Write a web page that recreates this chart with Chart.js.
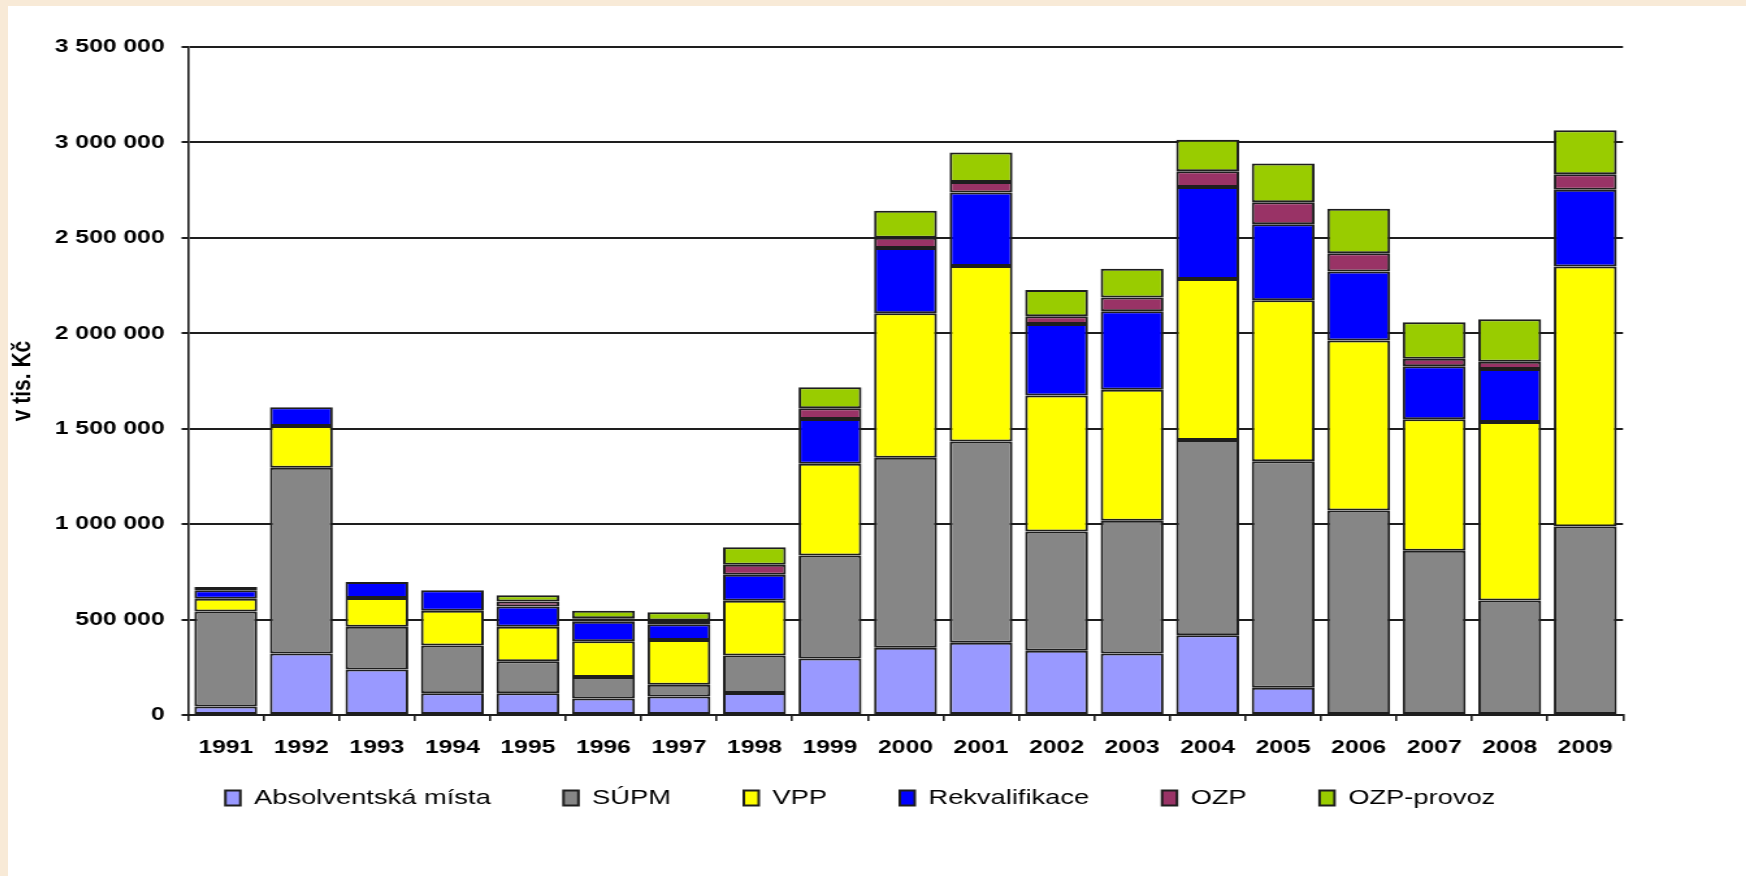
<!DOCTYPE html>
<html lang="cs">
<head>
<meta charset="UTF-8">
<title>Výdaje na aktivní politiku zaměstnanosti 1991–2009</title>
<script src="https://cdn.jsdelivr.net/npm/chart.js@4.4.1/dist/chart.umd.min.js"></script>
<style>
    html, body { margin: 0; padding: 0; }
    body { width: 1746px; height: 876px; background: #f8ead7; overflow: hidden; position: relative; }
    #sheet { position: absolute; left: 8px; top: 6px; width: 1738px; height: 870px; background: #fff; overflow: hidden; }
    /* the original picture is stretched sideways, so the chart is drawn narrow and widened */
    #wrap { position: absolute; left: 0; top: 0; width: 1337px; height: 870px; transform: scaleX(1.3); transform-origin: 0 0; }
</style>
</head>
<body>
<div id="sheet"><div id="wrap"><canvas id="chart"></canvas></div></div>
<script>
// values in tis. Kč
const years = ['1991','1992','1993','1994','1995','1996','1997','1998','1999','2000',
               '2001','2002','2003','2004','2005','2006','2007','2008','2009'];
const absolventi = [44000, 322000, 238000, 114000, 114000, 86000, 97000, 115000, 296000, 352000,
                    379000, 336000, 322000, 418000, 143000, 0, 0, 0, 0];
const supm = [498000, 974000, 225000, 250000, 168000, 113000, 61000, 197000, 540000, 996000,
              1054000, 626000, 696000, 1023000, 1187000, 1072000, 861000, 600000, 988000];
const vpp = [67000, 218000, 150000, 182000, 181000, 188000, 235000, 287000, 480000, 757000,
             919000, 712000, 686000, 843000, 843000, 890000, 688000, 935000, 1362000];
const rekvalifikace = [44000, 99000, 84000, 107000, 106000, 102000, 82000, 136000, 235000, 342000,
                       385000, 375000, 411000, 483000, 398000, 362000, 278000, 278000, 402000];
const ozp = [18000, 0, 0, 0, 26000, 18000, 20000, 52000, 56000, 53000,
             56000, 40000, 73000, 82000, 115000, 96000, 40000, 38000, 81000];
const ozpProvoz = [0, 0, 0, 0, 32000, 39000, 44000, 92000, 110000, 142000,
                   154000, 138000, 150000, 165000, 203000, 232000, 191000, 223000, 231000];
const yTicks = [0, 500000, 1000000, 1500000, 2000000, 2500000, 3000000, 3500000];

const series = [
    { label: 'Absolventská místa', data: absolventi, color: '#9999ff' },
    { label: 'SÚPM', data: supm, color: '#868686' },
    { label: 'VPP', data: vpp, color: '#ffff00' },
    { label: 'Rekvalifikace', data: rekvalifikace, color: '#0000ff' },
    { label: 'OZP', data: ozp, color: '#993366' },
    { label: 'OZP-provoz', data: ozpProvoz, color: '#99cc00' }
];

const ink = '#1e1e1e';
const padLeft = 20;
const plotLeft = 138.5, plotRight = 1242.3;

function spaced(v) {
    return String(v).replace(/\B(?=(\d{3})+(?!\d))/g, ' ');
}

// the legend sits a bit higher and further right than Chart.js would put it
const legendNudge = {
    id: 'legendNudge',
    afterLayout(chart) {
        const lg = chart.legend;
        if (!lg) return;
        lg.left += 49;
        lg.top -= 33.5;
        lg.bottom -= 33.5;
    }
};

new Chart(document.getElementById('chart'), {
    type: 'bar',
    data: {
        labels: years,
        datasets: series.map(s => ({
            label: s.label,
            data: s.data.map(v => v || null),
            backgroundColor: s.color,
            borderColor: ink,
            borderWidth: 2,
            borderSkipped: false,
            categoryPercentage: 1,
            barPercentage: 0.833
        }))
    },
    options: {
        responsive: true,
        maintainAspectRatio: false,
        animation: false,
        layout: { padding: { left: padLeft, right: 1337 - plotRight, top: 41, bottom: 24 } },
        plugins: {
            tooltip: { enabled: false },
            legend: {
                position: 'bottom',
                labels: {
                    boxWidth: 11.5,
                    boxHeight: 15,
                    padding: 56,
                    color: '#000',
                    font: { family: 'Liberation Sans', size: 21 }
                }
            }
        },
        scales: {
            x: {
                stacked: true,
                grid: { drawOnChartArea: false, drawTicks: true, tickLength: 6, color: ink, lineWidth: 1.6 },
                border: { display: true, color: ink, width: 2 },
                ticks: {
                    autoSkip: false, maxRotation: 0, padding: 15.6, color: '#000',
                    font: { family: 'Liberation Sans', size: 19, weight: 'bold' }
                },
                afterFit: s => { s.height = 50; }
            },
            y: {
                stacked: true,
                min: 0,
                max: 3500000,
                grid: { color: ink, lineWidth: 2, tickLength: 5 },
                border: { display: true, color: ink, width: 1.6 },
                ticks: {
                    padding: 13, color: '#000',
                    font: { family: 'Liberation Sans', size: 19, weight: 'bold' },
                    callback: v => spaced(v)
                },
                afterBuildTicks: s => { s.ticks = yTicks.map(v => ({ value: v })); },
                afterFit: s => { s.width = plotLeft - padLeft; },
                title: {
                    display: true,
                    text: 'v tis. Kč',
                    color: '#000',
                    padding: { top: -21.6, bottom: 0 },
                    font: { family: 'Liberation Sans', size: 21, weight: 'bold' }
                }
            }
        }
    },
    plugins: [legendNudge]
});
</script>
</body>
</html>
